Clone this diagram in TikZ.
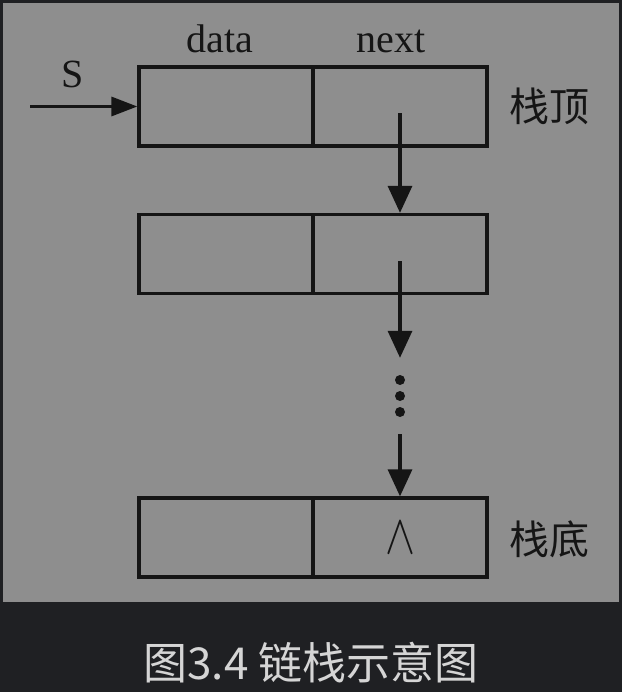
\documentclass[tikz,border=0pt]{standalone}
\usepackage{fontspec}
\setmainfont{Liberation Serif}
\newfontfamily\cjk{Noto Sans CJK SC}
\usetikzlibrary{arrows.meta,positioning}
\definecolor{panelgray}{HTML}{8E8E8E}
\definecolor{darkbg}{HTML}{1F2023}
\definecolor{inkline}{HTML}{151515}
\definecolor{captiongray}{HTML}{D5D5D5}
\tikzset{
  cell/.style={draw=inkline, line width=3.3pt, minimum width=174pt, minimum height=79pt, inner sep=0pt},
  link/.style={draw=inkline, line width=3.3pt, -{Triangle[length=27pt,width=24pt]}},
  lbl/.style={font=\fontsize{40}{40}\selectfont, text=inkline, inner sep=0pt},
  cjklbl/.style={font=\cjk\fontsize{40}{40}\selectfont, text=inkline, inner sep=0pt}
}
\begin{document}
\begin{tikzpicture}[x=1pt,y=-1pt]
\useasboundingbox (0,0) rectangle (622,692);
\fill [darkbg] (0,0) rectangle (622,692);
\fill [panelgray] (3,3) rectangle (619,602);

% Knoten
\node [cell] (topd) at (226,106.5) {};
\node [cell] (topn) at (400,106.5) {};
\node [cell] (midd) at (226,254) {};
\node [cell] (midn) at (400,254) {};
\node [cell] (botd) at (226,537.5) {};
\node [cell, text=inkline] (botn) at (400,537.5) {\scalebox{4.5}[5.6]{$\wedge$}};

% Beschriftung
\node [lbl, anchor=base] (datalbl) at (220,53) {data};
\node [lbl, anchor=base] (nextlbl) at (391,53) {next};
\node [lbl, anchor=base] (slbl) at (73,88) {S};
\node [cjklbl, right=21pt of topn] (toplbl) {栈顶};
\node [cjklbl, right=21pt of botn, yshift=-2pt] (botlbl) {栈底};

% Pfeile
\coordinate (sstart) at (30,106.5);
\draw [draw=inkline, line width=3.3pt, -{Triangle[length=26pt,width=19pt]}] (sstart) -- (topd.west);
\draw [link] ([yshift=-7pt]topn.center) -- (midn.north);
\node [minimum height=76pt, minimum width=10pt, inner sep=0pt] (dots) at (400,396) {};
\draw [link] ([yshift=-7pt]midn.center) -- (dots.north);
\fill [inkline] (dots.center) circle (5) ++(0,-16) circle (5) ++(0,32) circle (5);
\draw [link] (dots.south) -- (botn.north);

\node [font=\cjk\fontsize{44}{44}\selectfont, text=captiongray, inner sep=0pt] (caption) at (311,663) {图3.4 链栈示意图};
\end{tikzpicture}
\end{document}
